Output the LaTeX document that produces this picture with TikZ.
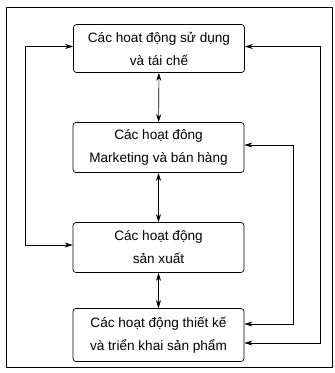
\documentclass[tikz,border=0pt]{standalone}
\usepackage{fontspec}
\setmainfont{Liberation Sans}
\usetikzlibrary{arrows.meta}
\begin{document}
\begin{tikzpicture}[x=1pt,y=-1pt,
  boxstyle/.style={draw, rounded corners=3pt, line width=0.7pt, minimum width=171pt, align=center, font=\fontsize{13.6}{23}\selectfont, inner sep=0pt},
  link/.style={line width=0.6pt, {Stealth[length=8pt,width=5pt]}-{Stealth[length=8pt,width=5pt]}}]
\useasboundingbox (0,0) rectangle (335,373);
\draw[line width=0.6pt] (6,7) rectangle (332,367);
\node[boxstyle, minimum height=48pt] (b1) at (159,48.5) {Các hoat động sử dụng\\và tái chế};
\node[boxstyle, minimum height=50pt] (b2) at (158.5,147.5) {Các hoạt đông\\Marketing và bán hàng};
\node[boxstyle, minimum height=50pt] (b3) at (158.5,247.5) {Các hoạt động\\sản xuất};
\node[boxstyle, minimum height=53pt] (b4) at (158.5,335) {Các hoạt động thiết kế\\và triển khai sản phẩm};
\draw[link] (b1) -- (b2);
\draw[link] (b2) -- (b3);
\draw[link] (b3) -- (b4);
\coordinate (l1) at (25,46.5);
\coordinate (l3) at (25,245);
\draw[link] (b1.west |- l1) -- (l1) -- (l3) -- (b3.west |- l3);
\coordinate (r1) at (320,46.5);
\coordinate (r4) at (320,343);
\draw[link] (b1.east |- r1) -- (r1) -- (r4) -- (b4.east |- r4);
\coordinate (s2) at (293,145);
\coordinate (s4) at (293,324);
\draw[link] (b2.east |- s2) -- (s2) -- (s4) -- (b4.east |- s4);
\end{tikzpicture}
\end{document}
